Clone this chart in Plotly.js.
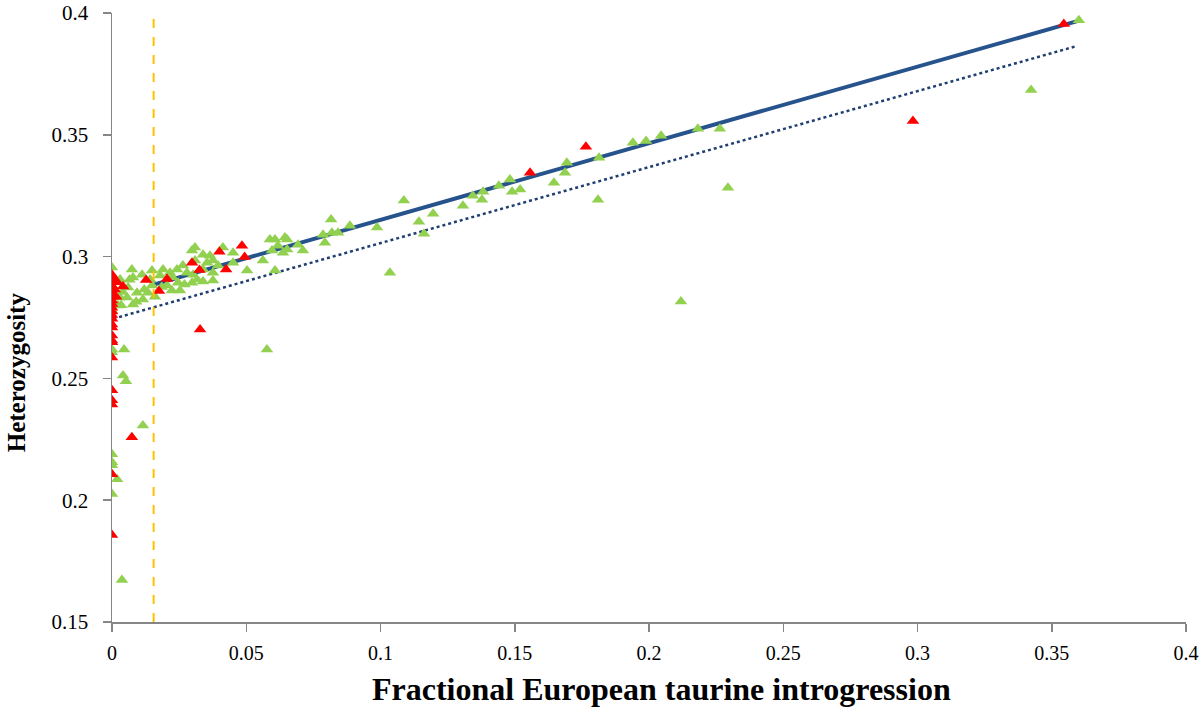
<!DOCTYPE html>
<html>
<head>
<meta charset="utf-8">
<script src="https://cdn.plot.ly/plotly-3.0.1.min.js"></script>
<style>
  html, body { margin: 0; padding: 0; background: #fff; }
  #chart { width: 1200px; height: 708px; }
</style>
</head>
<body>
<div id="chart"></div>
<script>
// green triangles (x = introgression, y = heterozygosity)
const greenX = [
  0, 0, 0, 0, 0, 0, 0, 0, 0, 0, 0, 0,
  0.0019, 0.0037, 0.0041, 0.0052, 0.0115, 0.0045, 0.0034, 0.0078,
  0.003, 0.0074, 0.0078, 0.0112, 0.0149, 0.0142, 0.006, 0.0093, 0.0056, 0.0115,
  0.003, 0.0022, 0.0134, 0.0149, 0.0179, 0.019, 0.0216, 0.0205, 0.0223, 0.0246,
  0.0242, 0.0264, 0.0279, 0.0298, 0.0309, 0.0253,
  0.004, 0.009, 0.012, 0.016, 0.0185, 0.0065, 0.001, 0.027, 0.0225,
  0.0309, 0.0339, 0.0365, 0.0413, 0.0451, 0.0354, 0.0376, 0.0395, 0.0339, 0.0302,
  0.0317, 0.0339, 0.0376, 0.0376, 0.0451, 0.0503, 0.0562, 0.0588, 0.0607, 0.0618,
  0.0607, 0.0596, 0.0637, 0.0652, 0.0298,
  0.0644, 0.0652, 0.0693, 0.0711, 0.0786, 0.0793, 0.0819, 0.0842, 0.0886, 0.0987,
  0.0577, 0.0816, 0.1035, 0.1087, 0.1196, 0.1143, 0.1162, 0.1307, 0.1344, 0.1382,
  0.1378, 0.1441, 0.1482, 0.1490, 0.1520, 0.1646, 0.1687, 0.1694, 0.1814, 0.1810,
  0.1940, 0.1989, 0.2045, 0.2182, 0.2264, 0.2294, 0.2119, 0.3423, 0.3601
];
const greenY = [
  0.2955, 0.292, 0.288, 0.284, 0.2803, 0.278, 0.2619, 0.2607, 0.2189, 0.2156, 0.2143, 0.2025,
  0.2086, 0.1672, 0.2512, 0.2488, 0.2307, 0.2619, 0.28, 0.2803,
  0.2906, 0.2947, 0.2914, 0.2926, 0.2943, 0.2906, 0.2873, 0.2852, 0.2832, 0.2824,
  0.2832, 0.2799, 0.2852, 0.2881, 0.2922, 0.2947, 0.2934, 0.2881, 0.2861, 0.2893,
  0.2947, 0.2963, 0.2934, 0.3025, 0.2984, 0.2861,
  0.2855, 0.2815, 0.2865, 0.2835, 0.2875, 0.2905, 0.2865, 0.2885, 0.2915,
  0.3037, 0.3008, 0.3004, 0.3037, 0.3016, 0.2975, 0.2984, 0.2963, 0.2947, 0.2926,
  0.2906, 0.2898, 0.2902, 0.2934, 0.2975, 0.2943, 0.2984, 0.307, 0.307, 0.3045,
  0.2943, 0.3025, 0.3016, 0.307, 0.2893,
  0.3078, 0.3029, 0.3049, 0.3025, 0.309, 0.3057, 0.3098, 0.3098, 0.3127, 0.3119,
  0.2619, 0.3152, 0.2934, 0.3230, 0.3176, 0.3143, 0.3094, 0.3209, 0.3250, 0.3266,
  0.3233, 0.3291, 0.3316, 0.3266, 0.3275, 0.3303, 0.3344, 0.3385, 0.3406, 0.3233,
  0.3467, 0.3475, 0.3496, 0.3525, 0.3525, 0.3283, 0.2816, 0.3684, 0.397
];

// red triangles
const redX = [
  0, 0, 0, 0, 0, 0, 0, 0, 0, 0, 0, 0, 0, 0, 0, 0, 0, 0, 0, 0, 0, 0, 0, 0,
  0.001, 0.001, 0.0015, 0.002,
  0.0041, 0.0127, 0.0175, 0.0205, 0.0298, 0.0326, 0.0400, 0.0425, 0.0484, 0.0494,
  0.0328, 0.0074, 0.1557, 0.1765, 0.2983, 0.3545
];
const redY = [
  0.2926, 0.291, 0.2895, 0.288, 0.2865, 0.285, 0.2835, 0.282, 0.2805, 0.279, 0.2775, 0.276,
  0.2745, 0.2721, 0.2709, 0.2676, 0.2656, 0.2648, 0.2586, 0.2451, 0.241, 0.2393, 0.2107, 0.1857,
  0.2906, 0.2865, 0.2835, 0.2895,
  0.2877, 0.2904, 0.2859, 0.2908, 0.2975, 0.2945, 0.302, 0.2947, 0.3045, 0.2998,
  0.2701, 0.2258, 0.3344, 0.3451, 0.3557, 0.3955
];

// trend lines and threshold
const solidX = [0.0155, 0.3605];
const solidY = [0.2885, 0.397];
const dottedX = [0.0005, 0.3595];
const dottedY = [0.2745, 0.3865];
const thresholdX = 0.0155;

const xTicks = [0, 0.05, 0.1, 0.15, 0.2, 0.25, 0.3, 0.35, 0.4];
const yTicks = [0.15, 0.2, 0.25, 0.3, 0.35, 0.4];

const traces = [
  { x: dottedX, y: dottedY, mode: 'lines', type: 'scatter',
    line: { color: '#1F3F73', width: 2.5, dash: 'dot' }, hoverinfo: 'skip' },
  { x: solidX, y: solidY, mode: 'lines', type: 'scatter',
    line: { color: '#27538D', width: 4 }, hoverinfo: 'skip' },
  { x: greenX, y: greenY, mode: 'markers', type: 'scatter',
    marker: { symbol: 'triangle-up', size: 11, color: '#92D050' } },
  { x: redX, y: redY, mode: 'markers', type: 'scatter',
    marker: { symbol: 'triangle-up', size: 11, color: '#FF0000' } },
  { x: [thresholdX, thresholdX], y: [0.15, 0.4], mode: 'lines', type: 'scatter',
    line: { color: '#FFC000', width: 2, dash: 'dash' }, hoverinfo: 'skip' },
];

const axisBase = {
  showgrid: false,
  zeroline: false,
  showline: true,
  linecolor: '#868686',
  linewidth: 1.5,
  ticks: 'outside',
  tickcolor: '#868686',
  ticklen: 8,
  tickwidth: 1.5,
  tickmode: 'array',
  ticklabeloverflow: 'allow',
};

const titleFont = { family: 'Liberation Serif, serif', color: '#000', weight: 'bold' };

const layout = {
  width: 1200,
  height: 708,
  showlegend: false,
  paper_bgcolor: '#fff',
  plot_bgcolor: '#fff',
  margin: { t: 13, r: 14, b: 86, l: 112 },
  xaxis: {
    ...axisBase,
    range: [0, 0.4],
    tickvals: xTicks,
    ticktext: xTicks.map(String),
    ticklabelstandoff: 4,
    tickfont: { family: 'Liberation Serif, serif', size: 20, color: '#000' },
  },
  yaxis: {
    ...axisBase,
    range: [0.15, 0.4],
    tickvals: yTicks,
    ticktext: yTicks.map(String),
    ticklabelstandoff: 10,
    tickfont: { family: 'Liberation Serif, serif', size: 21, color: '#000' },
  },
  annotations: [
    { text: 'Fractional European taurine introgression', xref: 'paper', yref: 'paper',
      x: 0.512, y: -0.11, xanchor: 'center', yanchor: 'middle', showarrow: false,
      font: { ...titleFont, size: 32 } },
    { text: 'Heterozygosity', xref: 'paper', yref: 'paper', textangle: -90,
      x: -0.0894, y: 0.41, xanchor: 'center', yanchor: 'middle', showarrow: false,
      font: { ...titleFont, size: 25 } },
  ],
};

Plotly.newPlot('chart', traces, layout, { displayModeBar: false, staticPlot: true });
</script>
</body>
</html>
